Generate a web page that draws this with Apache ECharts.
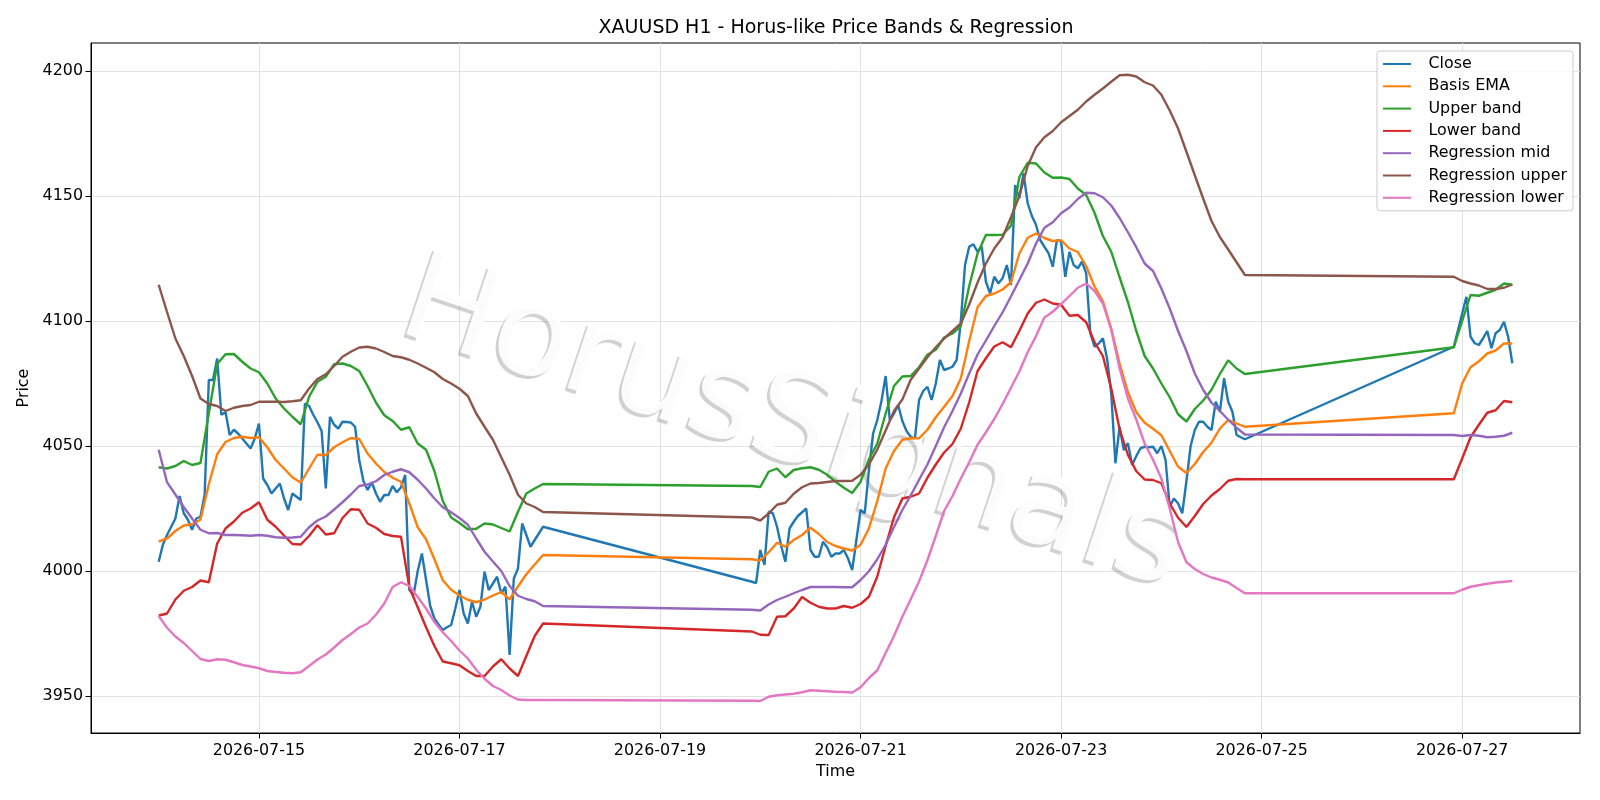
<!DOCTYPE html>
<html>
<head>
<meta charset="utf-8">
<title>XAUUSD H1 - Horus-like Price Bands & Regression</title>
<script src="https://cdn.jsdelivr.net/npm/echarts@6/dist/echarts.min.js"></script>
<style>
  html, body { margin: 0; padding: 0; background: #fff; }
  #chart { width: 1600px; height: 800px; }
</style>
</head>
<body>
<div id="chart"></div>
<script>
// hourly trading sessions (UTC), weekends are skipped
const sessions = [
  ['2026-07-14T00:00Z', '2026-07-17T20:00Z'],
  ['2026-07-19T22:00Z', '2026-07-24T20:00Z'],
  ['2026-07-26T22:00Z', '2026-07-27T12:00Z']
]
const dateTicks = ['2026-07-15', '2026-07-17', '2026-07-19', '2026-07-21', '2026-07-23', '2026-07-25', '2026-07-27']
const priceTicks = [3950, 4000, 4050, 4100, 4150, 4200]

// close, one value per hour
const closeVals = [
  // week 1
  4003.7, 4010.5, 4014.4, 4017.7, 4021, 4030, 4023.1, 4020.5, 4016.5, 4021, 4021.7, 4030.4,
  4076.4, 4076.4, 4085, 4062.5, 4063.5, 4054.4, 4056.5, 4055, 4053, 4051, 4049, 4053,
  4059, 4037, 4034.4, 4031, 4033, 4035, 4029, 4024.4, 4031, 4029.7, 4028.4, 4067,
  4066, 4062.5, 4059.5, 4056, 4033, 4061.7, 4058.5, 4057, 4059.7, 4059.6, 4059.4, 4057.7,
  4044.4, 4036, 4032.4, 4035.5, 4031, 4027.7, 4030.4, 4030.4, 4034, 4031.5, 4033.5, 4038.4,
  3992.4, 3990.4, 4000, 4007, 3996.4, 3986, 3981, 3978.5, 3976.4, 3977.5, 3978.4, 3985,
  3992.4, 3983, 3979, 3987.7, 3981.7, 3985.7, 3999.7, 3992.4, 3995, 3997.7, 3991, 3993.7,
  3966.4, 3997, 4001, 4019, 4014.4, 4009.7, 4012.4, 4015, 4017.7,
  // week 2
  3995.7, 3995.2, 4008.4, 4002.4, 4023.7, 4023.1, 4017.7, 4010, 4003.7, 4017, 4019.7, 4022,
  4023.5, 4025, 4008.4, 4005.7, 4005.7, 4011.7, 4009.5, 4005.7, 4007, 4007, 4008.4, 4005,
  4000.4, 4012.4, 4024.4, 4023.1, 4040.4, 4055, 4060.4, 4068, 4078, 4060.4, 4063, 4066.4,
  4060, 4056, 4053.7, 4053, 4068.4, 4072, 4073.7, 4068.4, 4075, 4084.4, 4080.4, 4081,
  4081.7, 4084.4, 4100, 4122.4, 4129.7, 4130.7, 4127.7, 4129.7, 4115.7, 4111.1, 4117.7, 4115.1,
  4117.1, 4122.4, 4114.4, 4154.4, 4149.1, 4159.1, 4147.1, 4142, 4138.4, 4132.4, 4129.7, 4127.1,
  4121.7, 4132.4, 4131.7, 4117.7, 4127.7, 4122.4, 4121.1, 4123.7, 4119.1, 4095.1, 4089.7, 4091,
  4093.1, 4085, 4071.1, 4043.1, 4057.7, 4048.4, 4051.1, 4042.4, 4046, 4049.1, 4049.7, 4049.5,
  4049.7, 4047.1, 4050, 4044.4, 4025.7, 4029, 4027, 4023.1, 4036, 4050, 4056.4, 4059.7,
  4059.7, 4057.7, 4056.4, 4067.7, 4063.7, 4077.1, 4067.7, 4063.7, 4054.4, 4053.5, 4052.7,
  // week 3
  4089.7, 4096.4, 4103, 4109.7, 4093.7, 4091.1, 4090.4, 4093.1, 4096, 4089.1, 4095.1, 4096.4,
  4099.7, 4093.7, 4083.1
]

// bands and regression channel, read every 2 hours
const basisEma = [
  4011.8, 4013, 4016, 4018.2, 4018.7, 4020.5, 4034.7, 4046.7, 4051.6, 4053.2, 4053.7, 4053.2,
  4053.5, 4049.5, 4044.4, 4041, 4037.5, 4035.3, 4041, 4046.5, 4046.4, 4049.5, 4051.5, 4053.2,
  4052.8, 4047, 4043, 4039.6, 4037.3, 4035.7, 4027, 4017.5, 4012.7, 4004.7, 3996.3, 3992.5,
  3990.2, 3988.5, 3987.5, 3988.6, 3990.2, 3991.6, 3988.7, 3993.8, 3998.7, 4002.6, 4006.4,
  4004.7, 4004.2, 4007.5, 4011.3, 4009.7, 4012.4, 4014.4, 4017.3, 4014.8, 4011.6, 4010, 4009,
  4008.2, 4010.5, 4017, 4028, 4041, 4048, 4052.5, 4053.1, 4053.1, 4056.5, 4061.5, 4065.7,
  4070, 4077, 4092, 4105.5, 4110, 4111, 4112.6, 4115.5, 4127, 4133.3, 4135, 4133.2,
  4132, 4132.3, 4129, 4127.6, 4122, 4113.8, 4107.9, 4097, 4083, 4071.5, 4063.5, 4059.3,
  4056.9, 4054.3, 4048, 4041.7, 4039.2, 4042.8, 4047.6, 4051.3, 4057, 4060.4, 4059, 4057.7,
  4063.1, 4075, 4081.5, 4083.9, 4087, 4088.2, 4091, 4091
]
const upperBand = [
  4041.5, 4041, 4042, 4044, 4042.4, 4043.2, 4063, 4082.8, 4086.7, 4086.8, 4083.7, 4081,
  4079.5, 4075, 4069, 4065, 4061.7, 4058.7, 4069.7, 4075.7, 4077.7, 4082.7, 4083, 4082,
  4080, 4074, 4067.4, 4062.3, 4060, 4056.5, 4057.5, 4051, 4048.5, 4040, 4028, 4021.4,
  4019.2, 4016.7, 4016.9, 4019, 4018.6, 4017.2, 4015.8, 4023.7, 4031, 4033, 4034.8,
  4034, 4033.6, 4039.7, 4041, 4037.5, 4040.4, 4041.1, 4041.5, 4040.5, 4038.5, 4035.7, 4033.3,
  4031.2, 4035.7, 4044.7, 4051, 4063, 4074, 4077.8, 4078, 4081.5, 4086.5, 4088.5, 4093.4,
  4095, 4098, 4114, 4127, 4134.4, 4134.4, 4134.5, 4138.1, 4157.6, 4163.3, 4163, 4159.4,
  4157.3, 4157.4, 4156.8, 4153, 4150.4, 4143.3, 4134, 4127.7, 4117.5, 4107.5, 4096, 4086,
  4081, 4075, 4069.5, 4062.7, 4059.8, 4064.8, 4068.2, 4072.5, 4078.8, 4084.3, 4081, 4078.8,
  4089.5, 4100, 4110.4, 4110.1, 4111.3, 4112.5, 4115, 4114.5
]
const lowerBand = [
  3982.2, 3983, 3988.6, 3992.1, 3993.6, 3996.2, 3995.5, 4011, 4017, 4019.8, 4023.3, 4025,
  4027.5, 4020.5, 4017.7, 4014.2, 4010.8, 4010.6, 4014, 4018.3, 4014.6, 4015.1, 4021.2, 4024.7,
  4024.5, 4019, 4017.3, 4014.8, 4014, 4013.7, 3993.5, 3985.5, 3977.5, 3970, 3963.8, 3963.1,
  3962.3, 3960, 3958, 3958, 3961.8, 3964.7, 3961, 3958, 3966, 3974, 3979,
  3975.8, 3974.5, 3974.4, 3981.7, 3981.9, 3985, 3989.6, 3987.3, 3985.7, 3985, 3985, 3986,
  3985.3, 3986.8, 3989.7, 3997.8, 4010, 4021.5, 4029, 4029.7, 4031, 4037.3, 4042.6, 4047.4,
  4050.8, 4057, 4067.5, 4080, 4085.1, 4089.8, 4091.5, 4089.5, 4096, 4103, 4107.3, 4108.6,
  4107, 4106.5, 4102.1, 4102.4, 4099.5, 4091.5, 4086, 4073, 4056.7, 4046.4, 4039.9, 4036.6,
  4036.4, 4035.1, 4027, 4021.3, 4017.6, 4022, 4026.8, 4030.2, 4032.8, 4036.1, 4036.8, 4036.7,
  4036.7, 4045, 4053.5, 4058.5, 4063.3, 4064.3, 4068, 4067.5
]
const regMid = [
  4048.5, 4035.5, 4030.6, 4025.6, 4021, 4016.5, 4015.1, 4015.2, 4014.4, 4014.4, 4014.3, 4014.1,
  4014.4, 4014.1, 4013.5, 4013.3, 4013.4, 4013.7, 4017.5, 4020.2, 4021.8, 4024.6, 4027.5, 4030.6,
  4034, 4034.6, 4035.9, 4038.4, 4039.7, 4040.7, 4039.5, 4036.5, 4033, 4029, 4025.5, 4023.5,
  4021.2, 4018.5, 4013, 4007.7, 4003.8, 4000, 3994, 3990.1, 3988.8, 3987.9, 3986,
  3984.5, 3984.2, 3986.6, 3988.4, 3989.7, 3991.1, 3992.4, 3993.6, 3993.6, 3993.6, 3993.6, 3993.5,
  3993.5, 3996.4, 3999.9, 4004.7, 4010.5, 4017.6, 4024.4, 4030.2, 4036.5, 4042.6, 4050, 4057.5,
  4064, 4071, 4079, 4086.6, 4092.2, 4098, 4103.5, 4109.8, 4116.4, 4123, 4131, 4137.3,
  4139.5, 4143.1, 4145.4, 4148.8, 4151.3, 4151.1, 4149.5, 4146.2, 4141.2, 4135.5, 4129.5, 4123,
  4120, 4113, 4105, 4096, 4088, 4079, 4072.5, 4067.3, 4064, 4060.5, 4057.3, 4054.6,
  4054.4, 4054, 4054.4, 4054.1, 4053.5, 4053.7, 4054.1, 4055.3
]
const regUpper = [
  4114.5, 4103.6, 4093, 4086, 4078, 4069, 4066.8, 4066, 4064, 4065.3, 4066, 4066.4,
  4067.7, 4067.7, 4067.7, 4067.6, 4067.9, 4068.3, 4073, 4076.8, 4078.7, 4082, 4085.7, 4087.7,
  4089.4, 4089.7, 4089, 4087.6, 4086, 4085.5, 4084.5, 4083, 4081.3, 4079.5, 4076.8, 4075,
  4072.9, 4070, 4063, 4057.7, 4052.5, 4045.5, 4038.5, 4030.5, 4027, 4025.6, 4023.6,
  4021.4, 4020.2, 4023, 4026.5, 4027.3, 4030.9, 4033.5, 4035, 4035.2, 4035.6, 4036, 4036,
  4036.1, 4038.5, 4042.6, 4048.6, 4056.2, 4064, 4068.6, 4076.5, 4081, 4085.5, 4089.5, 4093,
  4096, 4099, 4106.6, 4115.4, 4123, 4129, 4133.5, 4141.5, 4150, 4162, 4169.5, 4173.5,
  4176, 4179.5, 4182, 4184.5, 4187.8, 4190.5, 4193, 4195.7, 4198.3, 4198.5, 4197.8, 4195.5,
  4194.2, 4190.5, 4184.2, 4177, 4167.7, 4158.3, 4149, 4140, 4133.6, 4128.6, 4123.5, 4118.4,
  4117.7, 4116, 4115, 4114.2, 4112.8, 4112.8, 4113.3, 4114.6
]
const regLower = [
  3982, 3977.3, 3973.8, 3971.2, 3968, 3964.8, 3964, 3964.7, 3964.5, 3963.5, 3962.4, 3961.8,
  3961.1, 3960, 3959.6, 3959.3, 3959.1, 3959.5, 3962, 3964.6, 3966.6, 3969.4, 3972.4, 3974.8,
  3977.4, 3979, 3982.5, 3987, 3993.6, 3995.5, 3994, 3989.6, 3985, 3979.6, 3975.5, 3972,
  3968.2, 3965, 3960.5, 3956.9, 3954, 3952.4, 3950.2, 3948.6, 3948.4, 3948.4, 3948.4,
  3948.1, 3948, 3949.7, 3950.3, 3950.6, 3950.9, 3951.5, 3952.3, 3952.1, 3951.9, 3951.7, 3951.6,
  3951.4, 3953.5, 3957.2, 3960.3, 3967.2, 3974, 3981.7, 3988.7, 3995.8, 4004.3, 4014, 4024,
  4030, 4037, 4043.5, 4050.5, 4055.5, 4060.8, 4066.8, 4073.3, 4079.8, 4087.5, 4094, 4101.4,
  4103.7, 4106.8, 4110, 4113.3, 4115, 4112, 4107, 4096.5, 4081, 4069, 4060.5, 4051,
  4044.5, 4037, 4025, 4011.5, 4003.5, 4000.8, 3998.8, 3997.4, 3996.5, 3995.4, 3993.2, 3991.1,
  3991.1, 3992.5, 3993.7, 3994.3, 3994.9, 3995.4, 3995.7, 3996
]

const HOUR = 3600 * 1000

function sessionTimes(step) {
  const out = []
  sessions.forEach(([a, b]) => {
    for (let t = Date.parse(a); t <= Date.parse(b); t += step * HOUR) out.push(t)
  })
  return out
}

const hourly = sessionTimes(1)
const everyTwo = sessionTimes(2)
const pair = (times, vals) => times.map((t, i) => [t, vals[i]])

const tickTimes = dateTicks.map((d) => Date.parse(d + 'T00:00Z'))
const xMin = Date.parse(sessions[0][0]) - 16.2 * HOUR
const xMax = Date.parse(sessions[2][1]) + 16.2 * HOUR

const FONT = 'DejaVu Sans'
const FS = 15.9

function line(name, color, data) {
  return {
    name,
    type: 'line',
    data,
    symbol: 'none',
    showSymbol: false,
    lineStyle: { color, width: 2.4 },
    itemStyle: { color },
    emphasis: { disabled: true }
  }
}

// watermark: white lettering with a soft grey drop shadow
const markText = 'HorusSignals'
const markFont = '125px "DejaVu Sans"'
function mark(dx, dy, fill) {
  return {
    type: 'text',
    x: 792 + dx,
    y: 428 + dy,
    rotation: -0.32,
    z: 1,
    silent: true,
    style: {
      text: markText,
      font: markFont,
      fill,
      align: 'center',
      verticalAlign: 'middle',
      textAlign: 'center',
      textVerticalAlign: 'middle'
    }
  }
}

const chart = echarts.init(document.getElementById('chart'))
chart.setOption({
  animation: false,
  backgroundColor: '#ffffff',
  textStyle: { fontFamily: FONT },
  title: {
    text: 'XAUUSD H1 - Horus-like Price Bands & Regression',
    left: 831,
    textAlign: 'center',
    top: 14,
    textStyle: { fontFamily: FONT, fontSize: 19, fontWeight: 'normal', color: '#000' }
  },
  legend: {
    orient: 'vertical',
    right: 27,
    top: 51,
    itemWidth: 28,
    itemHeight: 16,
    itemGap: 6.3,
    padding: [5, 6, 5, 5],
    backgroundColor: 'rgba(255,255,255,0.8)',
    borderColor: '#cccccc',
    borderWidth: 1,
    borderRadius: 3,
    itemStyle: { opacity: 0 },
    textStyle: { fontFamily: FONT, fontSize: FS, color: '#000', padding: [0, 0, 0, 12.5] }
  },
  grid: { left: 91, right: 20, top: 43, bottom: 67, show: true, borderColor: '#000', borderWidth: 1 },
  xAxis: {
    type: 'value',
    min: xMin,
    max: xMax,
    name: 'Time',
    nameLocation: 'middle',
    nameGap: 31,
    nameTextStyle: { fontFamily: FONT, fontSize: FS, color: '#000' },
    axisLine: { lineStyle: { color: '#000', width: 1 } },
    axisTick: { show: true, length: 5.5, lineStyle: { color: '#000' }, customValues: tickTimes },
    axisLabel: {
      customValues: tickTimes,
      color: '#000',
      fontFamily: FONT,
      fontSize: FS,
      margin: 10,
      formatter: (v) => new Date(v).toISOString().slice(0, 10)
    },
    splitLine: { show: true, lineStyle: { color: '#e2e2e2', width: 1 } }
  },
  yAxis: {
    type: 'value',
    min: 3935.2,
    max: 4211.2,
    name: 'Price',
    nameLocation: 'middle',
    nameGap: 47.5,
    nameTextStyle: { fontFamily: FONT, fontSize: FS, color: '#000' },
    axisLine: { show: true, lineStyle: { color: '#000', width: 1 } },
    axisTick: { show: true, length: 5.5, lineStyle: { color: '#000' }, customValues: priceTicks },
    axisLabel: {
      customValues: priceTicks,
      color: '#000',
      fontFamily: FONT,
      fontSize: FS,
      margin: 8,
      formatter: (v) => String(v)
    },
    splitLine: { show: true, lineStyle: { color: '#e2e2e2', width: 1 } }
  },
  graphic: [
    mark(-3, 3, 'rgba(0,0,0,0.18)'),
    mark(0, 0, 'rgba(255,255,255,0.92)')
  ],
  series: [
    line('Close', '#1f77b4', pair(hourly, closeVals)),
    line('Basis EMA', '#ff7f0e', pair(everyTwo, basisEma)),
    line('Upper band', '#2ca02c', pair(everyTwo, upperBand)),
    line('Lower band', '#d62728', pair(everyTwo, lowerBand)),
    line('Regression mid', '#9467bd', pair(everyTwo, regMid)),
    line('Regression upper', '#8c564b', pair(everyTwo, regUpper)),
    line('Regression lower', '#e377c2', pair(everyTwo, regLower))
  ]
})

window.addEventListener('resize', () => chart.resize())
</script>
</body>
</html>
